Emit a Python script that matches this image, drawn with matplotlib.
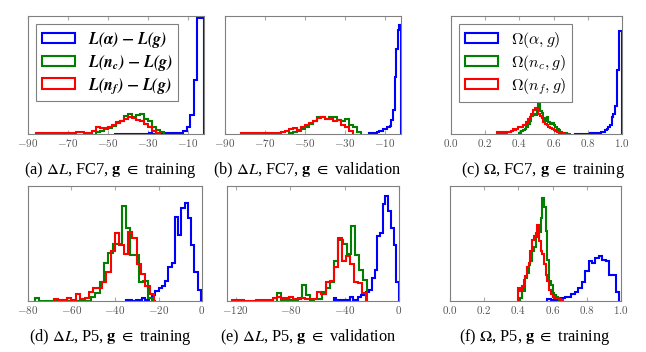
import numpy as np
import matplotlib
matplotlib.use("Agg")
import matplotlib.pyplot as plt
from matplotlib.ticker import FuncFormatter

plt.rcParams["mathtext.fontset"] = "cm"
plt.rcParams["font.family"] = ["Liberation Serif", "DejaVu Serif"]

BLUE, GREEN, RED = "#0000ff", "#008000", "#ff0000"

# ---- (a) dL, FC7, training ----
a_blue_edges = (-47.0, -2.0, 26)
a_blue = [1, 0, 1, 1, 0, 1, 1, 1, 1, 1, 2, 1, 2, 2, 2, 2, 3, 3, 2, 4, 8, 20, 57, 162, 347, 347]
a_green_edges = (-56.0, -22.0, 17)
a_green = [5, 10, 14, 18, 25, 35, 40, 55, 60, 52, 58, 60, 45, 40, 22, 12, 5]
a_red_edges = (-86.0, -24.0, 31)
a_red = [2, 2, 2, 2, 2, 3, 2, 3, 3, 2, 5, 5, 3, 4, 8, 20, 18, 17, 20, 28,
         32, 40, 45, 50, 48, 42, 38, 30, 20, 10, 3]

# ---- (b) dL, FC7, validation ----
b_blue_edges = (-18.0, -2.0, 20)
b_blue = [4, 3, 0, 3, 4, 5, 8, 9, 10, 14, 14, 22, 22, 24, 42, 72, 172, 257, 314, 330]
b_green_edges = (-58.0, -22.0, 18)
b_green = [3, 5, 10, 15, 22, 30, 38, 50, 52, 45, 52, 50, 42, 38, 45, 28, 20, 6]
b_red_edges = (-82.0, -26.0, 28)
b_red = [3, 3, 3, 2, 3, 2, 3, 3, 2, 4, 5, 8, 14, 18, 12, 22, 26, 32, 38, 48,
         50, 44, 46, 40, 42, 28, 20, 8]

# ---- (c) Omega, FC7, training ----
c_blue_edges = (0.72, 1.0, 28)
c_blue = [1, 1, 1, 1, 1, 1, 1, 1, 1, 2, 2, 2, 3, 3, 2, 4, 5, 7, 12, 14,
          22, 28, 52, 60, 84, 195, 312, 312]
c_green_edges = (0.40, 0.70, 30)
c_green = [3, 8, 12, 15, 22, 30, 40, 55, 62, 58, 75, 107, 70, 65, 48, 40, 52, 35, 30, 32,
           28, 22, 15, 12, 6, 4, 3, 2, 1, 0]
c_red_edges = (0.27, 0.69, 42)
c_red = [5, 4, 6, 4, 5, 3, 6, 5, 8, 14, 12, 16, 20, 22, 20, 28, 26, 35, 45, 50,
         62, 72, 80, 75, 60, 55, 48, 35, 30, 28, 22, 18, 15, 12, 10, 6, 4, 3, 2, 1, 1, 1]

# ---- (d) dL, P5, training ----
d_blue_edges = (-35.0, -0.5, 23)
d_blue = [3, 2, 1, 2, 3, 8, 4, 9, 18, 30, 38, 45, 60, 103, 113, 253, 198, 278, 293, 250,
          168, 88, 33]
d_green_edges = (-77.0, -21.0, 28)
d_green = [10, 1, 1, 1, 1, 1, 1, 1, 1, 1, 1, 1, 1, 12, 23, 58, 113, 143, 170, 170,
           285, 220, 138, 138, 58, 60, 10, 0]
d_red_edges = (-68.0, -22.0, 23)
d_red = [6, 3, 4, 10, 3, 20, 5, 10, 28, 38, 38, 58, 88, 150, 203, 168, 140, 208, 190, 110,
         80, 45, 20]

# ---- (e) dL, P5, validation ----
e_blue_edges = (-48.0, 0.0, 24)
e_blue = [10, 3, 3, 3, 2, 3, 13, 3, 3, 13, 18, 20, 28, 33, 68, 93, 193, 203, 288, 313,
          268, 218, 168, 58]
e_green_edges = (-89.5, -23.5, 22)
e_green = [23, 3, 3, 2, 3, 10, 48, 18, 4, 5, 6, 28, 38, 58, 118, 183, 170, 140, 223, 138,
           93, 63]
e_red_edges = (-123.0, -24.0, 33)
e_red = [4, 2, 2, 1, 1, 1, 2, 3, 2, 4, 8, 13, 10, 8, 13, 6, 5, 8, 6, 6,
         6, 26, 22, 58, 60, 100, 188, 120, 135, 110, 58, 53, 23]

# ---- (f) Omega, P5, training ----
f_blue_edges = (0.57, 0.99, 21)
f_blue = [5, 3, 4, 5, 8, 13, 13, 20, 28, 38, 56, 88, 118, 113, 128, 133, 123, 118, 78, 78, 28]
f_green_edges = (0.41, 0.65, 24)
f_green = [10, 38, 30, 68, 85, 108, 120, 148, 160, 203, 190, 205, 248, 308, 280, 208, 123, 60,
           48, 23, 18, 13, 8, 3]
f_red_edges = (0.40, 0.66, 26)
f_red = [38, 30, 45, 63, 75, 100, 113, 150, 183, 193, 200, 228, 180, 148, 140, 110, 78, 60,
         33, 20, 13, 10, 8, 8, 5, 2]

captions = [r"(a) $\Delta L$, FC7, $\mathbf{g}$ $\in$ training",
            r"(b) $\Delta L$, FC7, $\mathbf{g}$ $\in$ validation",
            r"(c) $\Omega$, FC7, $\mathbf{g}$ $\in$ training",
            r"(d) $\Delta L$, P5, $\mathbf{g}$ $\in$ training",
            r"(e) $\Delta L$, P5, $\mathbf{g}$ $\in$ validation",
            r"(f) $\Omega$, P5, $\mathbf{g}$ $\in$ training"]

dl_labels = [r"$\mathbfit{L(\alpha)}\ \mathbf{-}\ \mathbfit{L(g)}$",
             r"$\mathbfit{L(n_c)}\ \mathbf{-}\ \mathbfit{L(g)}$",
             r"$\mathbfit{L(n_f)}\ \mathbf{-}\ \mathbfit{L(g)}$"]
om_labels = [r"$\Omega(\alpha, g)$", r"$\Omega(n_c, g)$", r"$\Omega(n_f, g)$"]

W, H = 646, 352
panels = [
    # (left, top, right, bottom) px, xlim, xticks, ytop, series
    dict(box=(28, 16, 204, 134), xlim=(-90, -2), xt=[-90, -70, -50, -30, -10], ytop=354,
         s=[(a_blue_edges, a_blue), (a_green_edges, a_green), (a_red_edges, a_red)],
         leg=dl_labels, legfs=11.5, mathfont="stix", fmt="{:.0f}"),
    dict(box=(225, 16, 401, 134), xlim=(-90, -2), xt=[-90, -70, -50, -30, -10], ytop=357,
         s=[(b_blue_edges, b_blue), (b_green_edges, b_green), (b_red_edges, b_red)],
         leg=None, fmt="{:.0f}"),
    dict(box=(451, 16, 622, 134), xlim=(0, 1), xt=[0, 0.2, 0.4, 0.6, 0.8, 1.0], ytop=357,
         s=[(c_blue_edges, c_blue), (c_green_edges, c_green), (c_red_edges, c_red)],
         leg=om_labels, legfs=11.5, mathfont="cm", fmt="{:.1f}"),
    dict(box=(28, 186, 202, 301), xlim=(-80, 0), xt=[-80, -60, -40, -20, 0], ytop=345,
         s=[(d_blue_edges, d_blue), (d_green_edges, d_green), (d_red_edges, d_red)],
         leg=None, fmt="{:.0f}"),
    dict(box=(227, 186, 399, 301), xlim=(-126.5, 0), xt=[-120, -80, -40, 0], ytop=343,
         s=[(e_blue_edges, e_blue), (e_green_edges, e_green), (e_red_edges, e_red)],
         leg=None, fmt="{:.0f}"),
    dict(box=(450, 186, 621, 301), xlim=(0, 1), xt=[0, 0.2, 0.4, 0.6, 0.8, 1.0], ytop=343,
         s=[(f_blue_edges, f_blue), (f_green_edges, f_green), (f_red_edges, f_red)],
         leg=None, fmt="{:.1f}"),
]
cap_pos = [(110, 170), (307, 170), (543, 170), (110, 337), (308, 337), (535, 337)]

fig = plt.figure(figsize=(W / 100, H / 100), dpi=100)
for p, cap, (cx, cy) in zip(panels, captions, cap_pos):
    l, t, r, b = p["box"]
    ax = fig.add_axes([l / W, 1 - b / H, (r - l) / W, (b - t) / H])
    labels = p["leg"] or [None] * 3
    for ((lo, hi, n), counts), col, lab in zip(p["s"], [BLUE, GREEN, RED], labels):
        edges = np.linspace(lo, hi, n + 1)
        centers = 0.5 * (edges[:-1] + edges[1:])
        ax.hist(centers, bins=edges, weights=counts, histtype="step",
                color=col, lw=1.5, label=lab)
    ax.set_xlim(*p["xlim"])
    ax.set_ylim(0, p["ytop"])
    ax.set_xticks(p["xt"])
    fmt = p["fmt"]
    ax.xaxis.set_major_formatter(FuncFormatter(lambda v, pos, f=fmt: "$" + f.format(v) + "$"))
    ax.set_yticks([])
    ax.tick_params(axis="x", direction="in", top=True, length=3, color="#aaaaaa",
                   labelsize=8, labelcolor="#555555", pad=2)
    for sp in ax.spines.values():
        sp.set_color("#808080")
        sp.set_linewidth(0.8)
    if p["leg"]:
        lg = ax.legend(loc="upper left", fontsize=p["legfs"], handlelength=2.1,
                       handleheight=0.6, fancybox=False, edgecolor="#808080",
                       framealpha=1, borderaxespad=0.5, labelspacing=0.2,
                       handletextpad=0.8, borderpad=0.35)
        lg.get_frame().set_linewidth(0.8)
        for txt in lg.get_texts():
            txt.set_math_fontfamily(p["mathfont"])
    fig.text(cx / W, 1 - cy / H, cap, ha="center", va="center", fontsize=11.8,
             math_fontfamily="stix")

fig.savefig("out.png", dpi=100)
